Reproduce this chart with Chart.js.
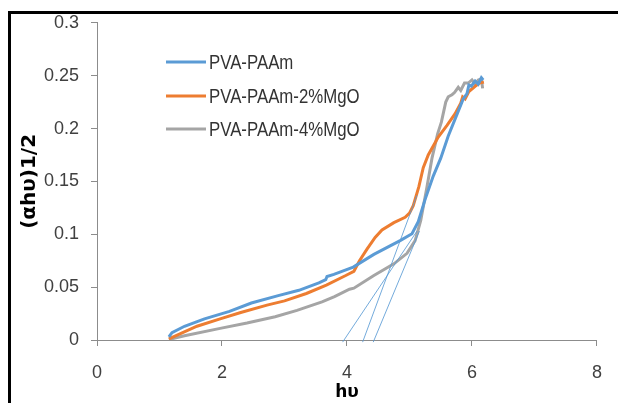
<!DOCTYPE html>
<html>
<head>
<meta charset="utf-8">
<script src="https://cdn.jsdelivr.net/npm/chart.js@4/dist/chart.umd.min.js"></script>
<style>
  html, body { margin: 0; padding: 0; background: #fff; }
  #wrap { position: relative; width: 618px; height: 403px; overflow: hidden; }
  #frame { position: absolute; left: 8px; top: 11px; right: -10px; bottom: -10px;
           border-left: 3px solid #000; border-top: 3px solid #000; pointer-events: none; }
</style>
</head>
<body>
<div id="wrap">
  <canvas id="chart" width="618" height="403"></canvas>
  <div id="frame"></div>
</div>
<script>
// series names (legend)
const seriesNames = ['PVA-PAAm', 'PVA-PAAm-2%MgO', 'PVA-PAAm-4%MgO'];
const seriesColors = ['#5b9bd5', '#ed7d31', '#a5a5a5'];

// PVA-PAAm
const hvPure = [1.15, 1.2, 1.4, 1.72, 2.12, 2.47, 2.9, 3.23, 3.55, 3.66, 3.68, 3.79, 4.1, 4.43, 4.85, 5.04, 5.14, 5.25, 5.38, 5.5, 5.62, 5.75, 5.86, 5.92, 5.95, 5.99, 6.05, 6.1, 6.15, 6.18];
const yPure = [0.003, 0.007, 0.013, 0.020, 0.027, 0.035, 0.042, 0.047, 0.054, 0.057, 0.060, 0.062, 0.069, 0.081, 0.094, 0.1005, 0.112, 0.133, 0.155, 0.172, 0.193, 0.212, 0.228, 0.233, 0.241, 0.240, 0.245, 0.242, 0.248, 0.246];

// PVA-PAAm-2%MgO
const hv2 = [1.15, 1.3, 1.6, 1.97, 2.3, 2.72, 3.0, 3.35, 3.67, 3.98, 4.11, 4.2, 4.32, 4.45, 4.56, 4.75, 4.93, 5.0, 5.06, 5.15, 5.22, 5.3, 5.46, 5.6, 5.73, 5.82, 5.85, 5.89, 5.95, 6.05, 6.12, 6.19];
const y2 = [0.001, 0.005, 0.013, 0.020, 0.026, 0.033, 0.037, 0.044, 0.052, 0.061, 0.065, 0.075, 0.086, 0.097, 0.104, 0.111, 0.116, 0.120, 0.127, 0.145, 0.163, 0.175, 0.192, 0.203, 0.214, 0.224, 0.230, 0.228, 0.235, 0.240, 0.243, 0.244];

// PVA-PAAm-4%MgO
const hv4 = [1.15, 1.4, 1.97, 2.4, 2.85, 3.2, 3.6, 3.8, 4.04, 4.11, 4.43, 4.75, 4.96, 5.09, 5.18, 5.28, 5.36, 5.45, 5.51, 5.58, 5.62, 5.68, 5.72, 5.78, 5.82, 5.88, 5.94, 6.0, 6.05, 6.1, 6.15, 6.17];
const y4 = [0.0005, 0.004, 0.011, 0.016, 0.022, 0.028, 0.036, 0.041, 0.048, 0.049, 0.061, 0.072, 0.082, 0.094, 0.113, 0.145, 0.172, 0.195, 0.206, 0.225, 0.230, 0.232, 0.234, 0.239, 0.236, 0.243, 0.243, 0.246, 0.242, 0.246, 0.247, 0.238];

// extrapolated tangent lines (band gap)
const tangentX = [[3.93, 5.12], [4.25, 5.12], [4.42, 5.16]];
const tangentY = [[-0.002, 0.103], [-0.002, 0.137], [-0.002, 0.103]];

// axis ticks
const xTicks = [0, 2, 4, 6, 8];
const yTicks = [0, 0.05, 0.1, 0.15, 0.2, 0.25, 0.3];

const toPts = (xs, ys) => xs.map((x, i) => ({x: x, y: ys[i]}));

const curves = [[hvPure, yPure], [hv2, y2], [hv4, y4]].map((s, i) => ({
    label: seriesNames[i],
    data: toPts(s[0], s[1]),
    borderColor: seriesColors[i],
    borderWidth: 3,
    pointRadius: 0,
    showLine: true,
    tension: 0,
    order: i + 1
}));

const tangents = tangentX.map((xs, i) => ({
    label: 'tangent' + i,
    data: toPts(xs, tangentY[i]),
    borderColor: 'rgba(91,155,213,0.85)',
    borderWidth: 1,
    pointRadius: 0,
    showLine: true,
    clip: false,
    order: 0
}));

const tickFont = {family: "'Liberation Sans', sans-serif", size: 18};

// legend drawn inside the plot, no box (like the original)
const insideLegend = {
    id: 'insideLegend',
    afterDraw(chart) {
        const ctx = chart.ctx;
        const rows = [62, 96, 129];
        ctx.save();
        ctx.font = "20px 'Liberation Sans', sans-serif";
        ctx.textBaseline = 'middle';
        ctx.fillStyle = '#333';
        seriesNames.forEach((name, i) => {
            ctx.strokeStyle = seriesColors[i];
            ctx.lineWidth = 3;
            ctx.beginPath();
            ctx.moveTo(166, rows[i]);
            ctx.lineTo(206, rows[i]);
            ctx.stroke();
            // condensed text, the original uses a narrow face
            ctx.save();
            ctx.translate(209, rows[i] + 1);
            ctx.scale(0.84, 1);
            ctx.fillText(name, 0, 0);
            ctx.restore();
        });
        ctx.restore();
    }
};

new Chart(document.getElementById('chart'), {
    type: 'scatter',
    data: {datasets: curves.concat(tangents)},
    options: {
        responsive: false,
        devicePixelRatio: 1,
        animation: false,
        layout: {padding: {top: 22, right: 12, bottom: 0, left: 0}},
        plugins: {legend: {display: false}, tooltip: {enabled: false}},
        scales: {
            x: {
                min: 0, max: 8,
                afterBuildTicks: s => { s.ticks = xTicks.map(v => ({value: v})); },
                afterFit: s => { s.height = 63; },
                ticks: {font: tickFont, color: '#404040', padding: 16},
                grid: {drawOnChartArea: false, tickLength: 6, color: '#8c8c8c'},
                border: {color: '#8c8c8c'},
                title: {display: true, text: 'hυ', color: '#000',
                        font: {family: "'DejaVu Sans', sans-serif", size: 17, weight: 'bold'},
                        padding: {top: 0, bottom: 0}}
            },
            y: {
                min: 0, max: 0.3,
                afterBuildTicks: s => { s.ticks = yTicks.map(v => ({value: v})); },
                afterFit: s => { s.width = 97; },
                ticks: {font: tickFont, color: '#404040', padding: 12,
                        callback: v => String(+v.toFixed(2))},
                grid: {drawOnChartArea: false, tickLength: 6, color: '#8c8c8c'},
                border: {color: '#8c8c8c'},
                title: {display: true, text: '(αhυ)1/2', color: '#000',
                        font: {family: "'DejaVu Sans', sans-serif", size: 20, weight: 'bold'},
                        padding: {top: 18, bottom: 0}}
            }
        }
    },
    plugins: [insideLegend]
});
</script>
</body>
</html>
